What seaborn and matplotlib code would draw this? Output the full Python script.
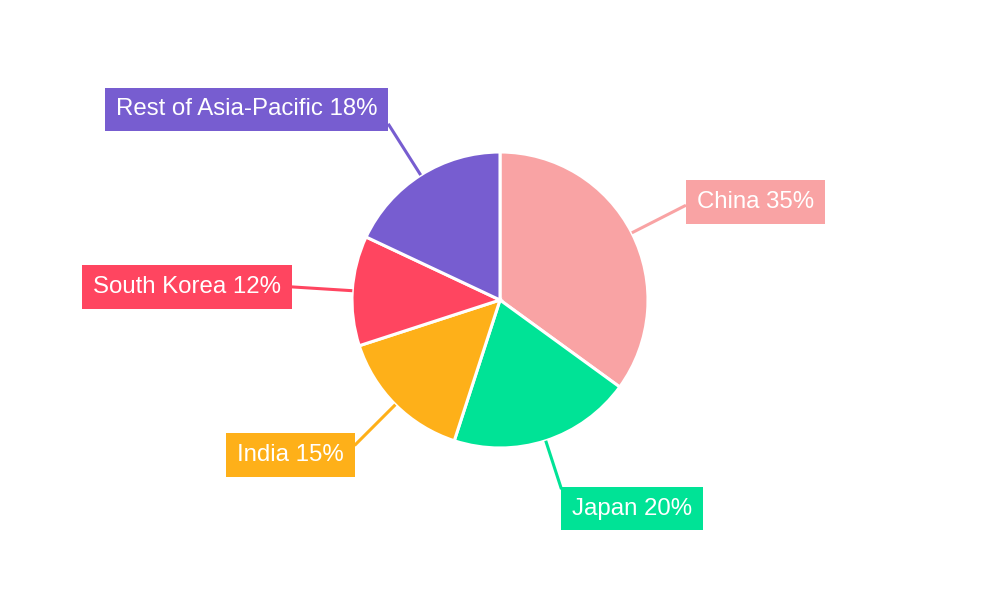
import numpy as np
import matplotlib
matplotlib.use('Agg')
import matplotlib.pyplot as plt
import seaborn as sns

# Data
regions = ['China', 'Japan', 'India', 'South Korea', 'Rest of Asia-Pacific']
shares = [35, 20, 15, 12, 18]
colors = ['#F9A3A4', '#00E396', '#FEB019', '#FF4560', '#775DD0']

sns.set_theme(style='white')
plt.rcParams['font.family'] = ['Liberation Sans', 'DejaVu Sans']

fig = plt.figure(figsize=(10, 6), dpi=100)
ax = fig.add_axes([0, 0, 1, 1])

center = (500, 300)
radius = 148
palette = sns.color_palette(colors)

wedges, _ = ax.pie(shares, colors=palette, startangle=90, counterclock=False,
                   radius=radius, center=center, frame=True,
                   wedgeprops=dict(edgecolor='white', linewidth=2.2))
ax.set_xlim(0, 1000)
ax.set_ylim(0, 600)
ax.set_aspect('equal')
ax.axis('off')

# Labels with leader lines
fs = 17.3
pad_frac = 0.45
pad = pad_frac * fs * 100 / 72
half_h = 22
for w, name, val, col in zip(wedges, regions, shares, palette):
    ang = np.deg2rad((w.theta1 + w.theta2) / 2)
    ux, uy = np.cos(ang), np.sin(ang)
    # leader a bit shorter for labels straight below
    line_r = radius * (1.41 - 0.08 * max(0.0, -uy) ** 4)
    x0, y0 = center[0] + radius * ux, center[1] + radius * uy
    x1, y1 = center[0] + line_r * ux, center[1] + line_r * uy
    ax.plot([x0, x1], [y0, y1], color=col, lw=2.2, solid_capstyle='butt', zorder=1)
    if ux >= 0:
        tx, ha = x1 + pad, 'left'
    else:
        tx, ha = x1 - pad, 'right'
    ty = y1 + half_h * uy * abs(uy) ** 1.5
    ax.text(tx, ty, f'{name} {val}%', ha=ha, va='center', color='white',
            fontsize=fs,
            bbox=dict(boxstyle=f'square,pad={pad_frac}', facecolor=col, edgecolor='none'),
            zorder=3)

fig.savefig('out.png', dpi=100, facecolor='white')
